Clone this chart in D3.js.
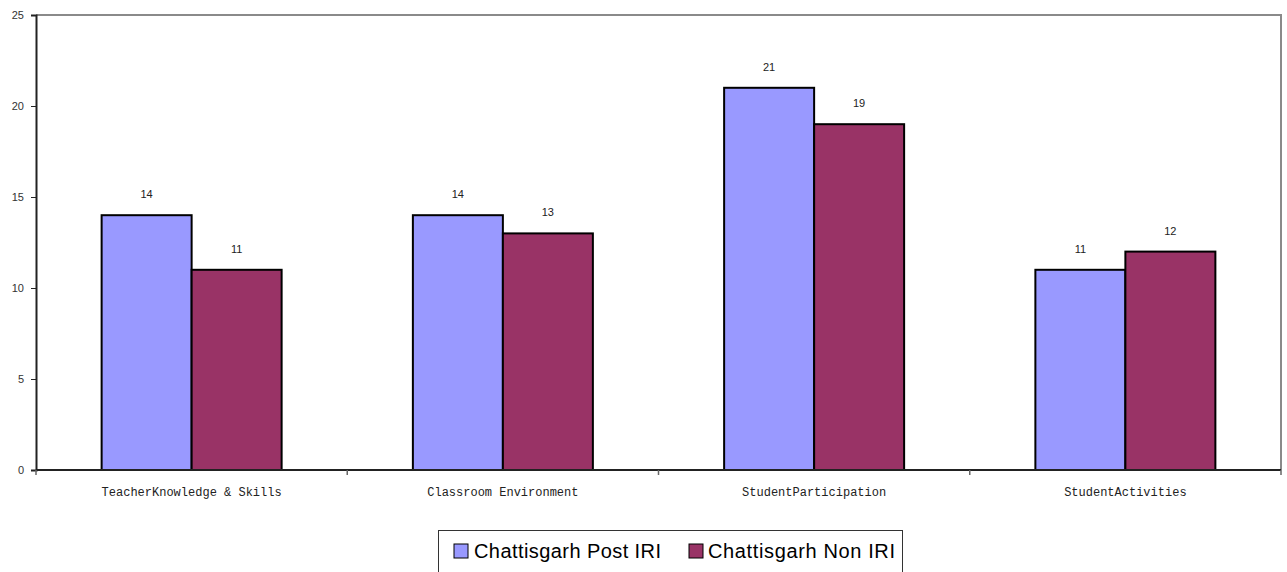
<!DOCTYPE html>
<html>
<head>
<meta charset="utf-8">
<script src="https://cdn.jsdelivr.net/npm/d3@7"></script>
<style>
  html, body { margin: 0; padding: 0; background: #fff; }
  svg { display: block; }
</style>
</head>
<body>
<svg id="chart" width="1287" height="572"></svg>
<script>
// Chart data
const categories = ["TeacherKnowledge & Skills", "Classroom Environment", "StudentParticipation", "StudentActivities"];
const seriesNames = ["Chattisgarh Post IRI", "Chattisgarh Non IRI"];
const postIRI = [14, 14, 21, 11];
const nonIRI = [11, 13, 19, 12];
const yTicks = [0, 5, 10, 15, 20, 25];
const colors = ["#9999FF", "#993366"];

const svg = d3.select("#chart");
const plot = { left: 36, right: 1281, top: 15, bottom: 470 };

const x = d3.scaleBand().domain(categories).range([plot.left, plot.right]).paddingInner(0).paddingOuter(0);
const y = d3.scaleLinear().domain([0, 25]).range([plot.bottom, plot.top]);
const barW = 90;
const x1 = d3.scaleBand().domain(seriesNames).range([0, barW * 2]);

// Plot frame: top and right edges in grey
svg.append("path")
  .attr("d", `M${plot.left},${plot.top}H${plot.right}V${plot.bottom}`)
  .attr("fill", "none").attr("stroke", "#8a8a8a").attr("stroke-width", 2);

// Bars
const rows = categories.map((c, i) => ({ c, vals: [postIRI[i], nonIRI[i]] }));
const groups = svg.append("g").selectAll("g").data(rows).join("g")
  .attr("transform", d => `translate(${x(d.c) + x.bandwidth() / 2 - barW},0)`);

groups.selectAll("rect").data(d => d.vals.map((v, k) => ({ v, k })))
  .join("rect")
  .attr("x", d => x1(seriesNames[d.k]))
  .attr("y", d => y(d.v))
  .attr("width", x1.bandwidth())
  .attr("height", d => y(0) - y(d.v))
  .attr("fill", d => colors[d.k])
  .attr("stroke", "#000").attr("stroke-width", 2);

groups.selectAll("text").data(d => d.vals.map((v, k) => ({ v, k })))
  .join("text")
  .attr("x", d => x1(seriesNames[d.k]) + x1.bandwidth() / 2)
  .attr("y", d => y(d.v) - 17)
  .attr("text-anchor", "middle")
  .attr("font-family", "Liberation Sans, Arial, sans-serif")
  .attr("font-size", 11)
  .attr("fill", "#222")
  .text(d => d.v);

// Y axis
const yAxis = d3.axisLeft(y).tickValues(yTicks).tickSize(5).tickPadding(7);
const gy = svg.append("g").attr("transform", `translate(${plot.left},0)`).call(yAxis);
gy.select(".domain").attr("stroke", "#222").attr("stroke-width", 2);
gy.selectAll(".tick line").attr("stroke", "#222");
gy.selectAll(".tick text")
  .attr("font-family", "Liberation Sans, Arial, sans-serif")
  .attr("font-size", 11).attr("fill", "#333");

// X axis with ticks at category boundaries
const gx = svg.append("g").attr("transform", `translate(0,${plot.bottom})`);
gx.append("line").attr("x1", plot.left).attr("x2", plot.right)
  .attr("stroke", "#222").attr("stroke-width", 2);
const bounds = categories.map(c => x(c)).concat([plot.right]);
gx.selectAll("line.tk").data(bounds).join("line").attr("class", "tk")
  .attr("x1", d => d).attr("x2", d => d).attr("y1", 0).attr("y2", 5)
  .attr("stroke", "#666").attr("stroke-width", 1.5);
gx.selectAll("text").data(categories).join("text")
  .attr("x", d => x(d) + x.bandwidth() / 2)
  .attr("y", 26)
  .attr("text-anchor", "middle")
  .attr("font-family", "Liberation Mono, Courier New, monospace")
  .attr("font-size", 12)
  .attr("fill", "#222")
  .text(d => d);

// Legend
const lg = svg.append("g");
lg.append("rect").attr("x", 438.5).attr("y", 530.5).attr("width", 464).attr("height", 50)
  .attr("fill", "#fff").attr("stroke", "#333").attr("stroke-width", 1);
const legendItems = [
  { name: seriesNames[0], color: colors[0], sx: 454, tx: 474 },
  { name: seriesNames[1], color: colors[1], sx: 689, tx: 708 }
];
lg.selectAll("rect.sw").data(legendItems).join("rect").attr("class", "sw")
  .attr("x", d => d.sx).attr("y", 544).attr("width", 14).attr("height", 14)
  .attr("fill", d => d.color).attr("stroke", "#000").attr("stroke-width", 1);
lg.selectAll("text").data(legendItems).join("text")
  .attr("x", d => d.tx).attr("y", 558)
  .attr("font-family", "Liberation Sans, Arial, sans-serif")
  .attr("font-size", 20)
  .attr("fill", "#000")
  .attr("textLength", 187)
  .text(d => d.name);
</script>
</body>
</html>
